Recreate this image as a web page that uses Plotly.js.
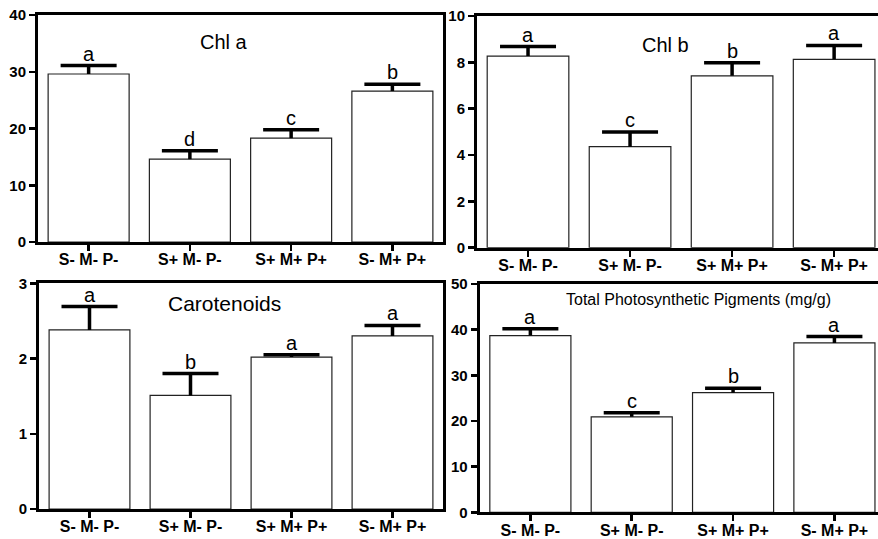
<!DOCTYPE html>
<html>
<head>
<meta charset="utf-8">
<script src="https://cdn.plot.ly/plotly-3.0.1.min.js"></script>
<style>html,body{margin:0;padding:0;background:#fff;}#chart{width:878px;height:539px;}</style>
</head>
<body>
<div id="chart"></div>
<script>
// ---- data ----
const categories = ['S- M- P-', 'S+ M- P-', 'S+ M+ P+', 'S- M+ P+'];

const chlA = [29.6, 14.6, 18.3, 26.6];
const chlAErr = [1.5, 1.5, 1.5, 1.2];
const chlALetters = ['a', 'd', 'c', 'b'];

const chlB = [8.27, 4.36, 7.42, 8.13];
const chlBErr = [0.41, 0.63, 0.56, 0.6];
const chlBLetters = ['a', 'c', 'b', 'a'];

const carot = [2.38, 1.51, 2.02, 2.30];
const carotErr = [0.31, 0.29, 0.03, 0.14];
const carotLetters = ['a', 'b', 'a', 'a'];

const total = [38.7, 20.9, 26.2, 37.1];
const totalErr = [1.5, 0.9, 0.95, 1.4];
const totalLetters = ['a', 'c', 'b', 'a'];

const panelTitles = ['Chl a', 'Chl b', 'Carotenoids', 'Total Photosynthetic Pigments (mg/g)'];
const yRanges = [[0, 40], [0, 10], [0, 3], [0, 50]];
const yDticks = [10, 2, 1, 10];

// ---- build ----
const W = 878, H = 539;
const panels = [
  {vals: chlA, err: chlAErr, letters: chlALetters},
  {vals: chlB, err: chlBErr, letters: chlBLetters},
  {vals: carot, err: carotErr, letters: carotLetters},
  {vals: total, err: totalErr, letters: totalLetters}
];
// pixel frames: [left, right, top, bottom]
const frames = [
  [38, 443, 15, 242],
  [477, 878, 16, 247.7],
  [39, 443, 283.3, 509],
  [479.7, 878, 284, 512.3]
];
const xRanges = [[-0.5, 3.5], [-0.5, 3.43], [-0.5, 3.5], [-0.5, 3.43]];
const titlePos = [[224, 42, 20], [665, 45, 20], [224, 303, 21], [698, 299, 16]];

const FONT = 'Liberation Sans, Arial, sans-serif';
const traces = [];
const annotations = [];
const layout = {
  width: W, height: H,
  margin: {l: 0, r: 0, t: 0, b: 0},
  paper_bgcolor: '#ffffff', plot_bgcolor: '#ffffff',
  showlegend: false,
  bargap: 0.2,
  font: {family: FONT, color: '#000'}
};

panels.forEach((p, i) => {
  const n = i + 1;
  const xa = n === 1 ? 'x' : 'x' + n;
  const ya = n === 1 ? 'y' : 'y' + n;
  const tops = p.vals.map((v, j) => v + p.err[j]);
  // bars with upward error stems (no caps)
  traces.push({
    type: 'bar', x: categories, y: p.vals, xaxis: xa, yaxis: ya,
    marker: {color: '#ffffff', line: {color: '#222', width: 1.2}},
    error_y: {type: 'data', symmetric: false, array: p.err, arrayminus: p.err.map(() => 0),
              color: '#000', thickness: 3.5, width: 0},
    hoverinfo: 'none'
  });
  // top caps of the error bars
  traces.push({
    type: 'scatter', mode: 'markers', x: categories, y: tops, xaxis: xa, yaxis: ya,
    marker: {symbol: 'line-ew', size: 40, color: '#000', line: {color: '#000', width: 3.5}},
    hoverinfo: 'none', cliponaxis: false
  });
  const f = frames[i];
  const xk = n === 1 ? 'xaxis' : 'xaxis' + n;
  const yk = n === 1 ? 'yaxis' : 'yaxis' + n;
  const clipped = (i === 1 || i === 3);
  layout[xk] = {
    domain: [f[0] / W, f[1] / W], anchor: ya, type: 'category',
    range: xRanges[i], showgrid: false, zeroline: false,
    showline: true, linecolor: '#000', linewidth: 3, mirror: true,
    ticks: 'outside', ticklen: 6, tickwidth: 2.5, tickcolor: '#000',
    ticklabelstandoff: -5,
    tickfont: {family: FONT, size: 16, weight: 'bold', color: '#000'},
    fixedrange: true
  };
  layout[yk] = {
    domain: [1 - f[3] / H, 1 - f[2] / H], anchor: xa,
    range: yRanges[i], dtick: yDticks[i], tick0: 0,
    showgrid: false, zeroline: false,
    showline: true, linecolor: '#000', linewidth: 3, mirror: clipped ? false : true,
    ticks: 'outside', ticklen: 6, tickwidth: 2.5, tickcolor: '#000',
    tickfont: {family: FONT, size: 15, weight: 'bold', color: '#000'},
    fixedrange: true
  };
  p.letters.forEach((L, j) => {
    annotations.push({
      xref: xa, yref: ya, x: categories[j], y: tops[j],
      text: L, showarrow: false, yanchor: 'bottom', yshift: -1,
      font: {family: FONT, size: 20, color: '#000'}
    });
  });
  const t = titlePos[i];
  annotations.push({
    xref: 'paper', yref: 'paper', x: t[0] / W, y: 1 - t[1] / H,
    xanchor: 'center', yanchor: 'middle', showarrow: false,
    text: panelTitles[i], font: {family: FONT, size: t[2], color: '#000'}
  });
});
layout.annotations = annotations;

Plotly.newPlot('chart', traces, layout, {staticPlot: true, displayModeBar: false});
</script>
</body>
</html>
